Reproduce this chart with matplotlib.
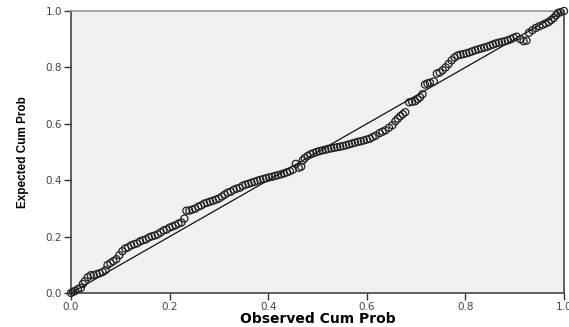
import matplotlib
matplotlib.use("Agg")
import matplotlib.pyplot as plt
from matplotlib import font_manager

observed = [
    0.000, 0.004, 0.008, 0.014, 0.020, 0.024, 0.028, 0.034, 0.040, 0.046,
    0.052, 0.058, 0.064, 0.070, 0.074, 0.080, 0.086, 0.092, 0.098, 0.104,
    0.110, 0.116, 0.122, 0.128, 0.134, 0.140, 0.146, 0.152, 0.158, 0.164,
    0.170, 0.176, 0.182, 0.188, 0.194, 0.200, 0.206, 0.212, 0.218, 0.224,
    0.230, 0.234, 0.240, 0.246, 0.252, 0.258, 0.264, 0.270, 0.276, 0.282,
    0.288, 0.294, 0.300, 0.306, 0.312, 0.318, 0.324, 0.330, 0.336, 0.342,
    0.348, 0.354, 0.360, 0.366, 0.372, 0.378, 0.384, 0.390, 0.396, 0.402,
    0.408, 0.414, 0.420, 0.426, 0.432, 0.438, 0.444, 0.450, 0.456, 0.462,
    0.467, 0.470, 0.474, 0.480, 0.486, 0.492, 0.498, 0.504, 0.510, 0.516,
    0.522, 0.528, 0.534, 0.540, 0.546, 0.552, 0.558, 0.564, 0.570, 0.576,
    0.582, 0.588, 0.594, 0.600, 0.606, 0.612, 0.618, 0.626, 0.632, 0.638,
    0.645, 0.652, 0.658, 0.663, 0.668, 0.673, 0.678, 0.686, 0.692, 0.698,
    0.703, 0.708, 0.713, 0.718, 0.723, 0.728, 0.736, 0.742, 0.748, 0.754,
    0.760, 0.766, 0.772, 0.778, 0.784, 0.790, 0.796, 0.802, 0.808, 0.814,
    0.820, 0.826, 0.832, 0.838, 0.844, 0.850, 0.856, 0.862, 0.868, 0.874,
    0.880, 0.886, 0.892, 0.898, 0.904, 0.912, 0.918, 0.924, 0.929, 0.936,
    0.943, 0.950, 0.957, 0.963, 0.969, 0.974, 0.979, 0.984, 0.988, 0.993,
    1.000,
]
expected = [
    0.000, 0.004, 0.007, 0.014, 0.018, 0.032, 0.042, 0.056, 0.063, 0.063,
    0.067, 0.070, 0.074, 0.081, 0.099, 0.106, 0.113, 0.120, 0.134, 0.148,
    0.158, 0.162, 0.169, 0.173, 0.176, 0.183, 0.187, 0.190, 0.197, 0.201,
    0.204, 0.208, 0.215, 0.222, 0.225, 0.232, 0.236, 0.240, 0.246, 0.250,
    0.264, 0.292, 0.292, 0.296, 0.299, 0.306, 0.310, 0.317, 0.320, 0.324,
    0.327, 0.331, 0.335, 0.342, 0.349, 0.356, 0.359, 0.366, 0.370, 0.373,
    0.380, 0.384, 0.387, 0.391, 0.394, 0.398, 0.401, 0.404, 0.407, 0.410,
    0.412, 0.415, 0.418, 0.421, 0.424, 0.428, 0.432, 0.437, 0.458, 0.444,
    0.448, 0.470, 0.478, 0.486, 0.492, 0.496, 0.500, 0.503, 0.506, 0.508,
    0.511, 0.513, 0.515, 0.517, 0.519, 0.521, 0.524, 0.527, 0.530, 0.533,
    0.536, 0.538, 0.541, 0.544, 0.547, 0.553, 0.558, 0.567, 0.572, 0.577,
    0.586, 0.595, 0.609, 0.618, 0.627, 0.634, 0.641, 0.676, 0.678, 0.680,
    0.687, 0.694, 0.705, 0.739, 0.743, 0.746, 0.750, 0.778, 0.782, 0.790,
    0.800, 0.812, 0.825, 0.835, 0.842, 0.845, 0.847, 0.850, 0.853, 0.857,
    0.861, 0.864, 0.867, 0.870, 0.873, 0.877, 0.881, 0.885, 0.888, 0.890,
    0.893, 0.896, 0.900, 0.905, 0.909, 0.900, 0.893, 0.895, 0.923, 0.932,
    0.940, 0.946, 0.951, 0.956, 0.961, 0.968, 0.975, 0.985, 0.993, 0.996,
    1.000,
]
tick_values = [0.0, 0.2, 0.4, 0.6, 0.8, 1.0]
tick_labels = ["0.0", "0.2", "0.4", "0.6", "0.8", "1.0"]
x_label = "Observed Cum Prob"
y_label = "Expected Cum Prob"

available = {f.name for f in font_manager.fontManager.ttflist}
narrow = "Liberation Sans Narrow" if "Liberation Sans Narrow" in available else "Liberation Sans"

fig = plt.figure(figsize=(5.69, 3.27), dpi=100)
ax = fig.add_axes([0.1248, 0.104, 0.9912 - 0.1248, 0.9664 - 0.104])
ax.set_facecolor("#f0f0f0")

ax.plot([0, 1], [0, 1], color="#111111", linewidth=0.9, zorder=2)
ax.scatter(observed, expected, s=26, facecolors="none", edgecolors="#222222",
           linewidths=0.9, zorder=3, clip_on=False)

ax.set_xlim(0, 1)
ax.set_ylim(0, 1)
ax.set_xticks(tick_values)
ax.set_xticklabels(tick_labels)
ax.set_yticks(tick_values)
ax.set_yticklabels(tick_labels)
ax.tick_params(direction="out", length=5, width=1.0, color="#333333",
               labelsize=7.5, labelcolor="#444444", pad=1.5)

for side in ["left", "right", "bottom"]:
    ax.spines[side].set_color("#444444")
    ax.spines[side].set_linewidth(1.2)
ax.spines["top"].set_color("#999999")
ax.spines["top"].set_linewidth(1.2)

ax.set_xlabel(x_label, fontsize=10, fontweight="bold", family="DejaVu Sans",
              labelpad=0)
ax.set_ylabel(y_label, fontsize=8.5, fontweight="bold", family=[narrow, "DejaVu Sans"],
              labelpad=12)

fig.savefig("out.png", dpi=100, facecolor="white")
